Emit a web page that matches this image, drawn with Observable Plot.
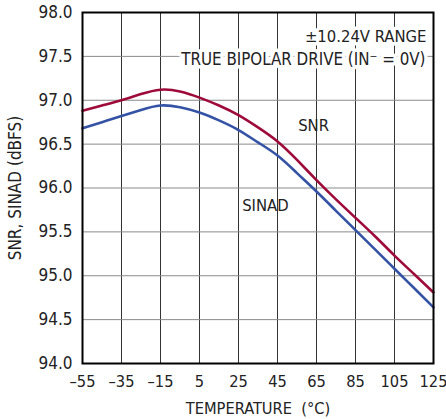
<!DOCTYPE html>
<html><head><meta charset="utf-8">
<script src="https://cdn.jsdelivr.net/npm/d3@7"></script>
<script src="https://cdn.jsdelivr.net/npm/@observablehq/plot@0.6"></script>
<style>body{margin:0;background:#fff}</style>
</head><body><div id="chart"></div>
<script>
const temps = [-55,-45,-35,-25,-15,-5,5,15,25,35,45,55,65,75,85,95,105,115,125];
const snr   = [96.88,96.94,97.00,97.07,97.12,97.10,97.03,96.94,96.83,96.69,96.53,96.32,96.09,95.87,95.66,95.45,95.23,95.02,94.81];
const sinad = [96.68,96.75,96.82,96.89,96.94,96.92,96.86,96.77,96.66,96.52,96.37,96.17,95.96,95.74,95.52,95.30,95.08,94.86,94.64];
const xTicks = [-55,-35,-15,5,25,45,65,85,105,125];
const yTicks = [94.0,94.5,95.0,95.5,96.0,96.5,97.0,97.5,98.0];
const seriesNames = ["SNR","SINAD"];
const seriesColors = ["#9e0b3a","#3553a5"];
const curveLabels = [{name:"SNR", t:63.5, v:96.71},{name:"SINAD", t:38.8, v:95.80}];
const notes = ["±10.24V RANGE","TRUE BIPOLAR DRIVE (IN\u207B = 0V)"];

const FONT = "'Liberation Sans Narrow','Arial Narrow','DejaVu Sans Condensed',sans-serif";
const data = temps.flatMap((t,i)=>[{t, v:snr[i], s:"SNR"},{t, v:sinad[i], s:"SINAD"}]);

const chart = Plot.plot({
  width:446, height:419,
  marginLeft:82, marginRight:13, marginTop:12, marginBottom:56,
  style:{fontFamily:FONT, fontSize:"17px", color:"#222", background:"#fff"},
  x:{domain:[-55,125]},
  y:{domain:[94,98]},
  color:{domain:seriesNames, range:seriesColors},
  marks:[
    Plot.gridX(xTicks,{stroke:"#333", strokeOpacity:1, strokeWidth:1}),
    Plot.gridY(yTicks,{stroke:"#8a8a8a", strokeOpacity:1, strokeWidth:1}),
    Plot.text([notes[0]],{frameAnchor:"top-right", dx:-7, dy:18, text:d=>d, fontSize:16.5, fill:"#222", stroke:"#fff", strokeWidth:7, textAnchor:"end"}),
    Plot.text([notes[1]],{frameAnchor:"top-right", dx:-8, dy:41, text:d=>d, fontSize:16.8, fill:"#222", stroke:"#fff", strokeWidth:7, textAnchor:"end"}),
    Plot.line(data,{x:"t", y:"v", stroke:"s", curve:"natural", strokeWidth:2.6}),
    Plot.text(curveLabels,{x:"t", y:"v", text:"name", fontSize:16.5, fill:"#222"}),
    Plot.frame({stroke:"#000", strokeWidth:2}),
    Plot.axisX(xTicks,{tickSize:0, tickPadding:12, fontSize:16.3, label:"TEMPERATURE  (°C)", labelAnchor:"center", labelArrow:"none", labelOffset:50, tickFormat:d=>d<0?"\u2013"+Math.abs(d):String(d)}),
    Plot.axisY(yTicks,{tickSize:0, tickPadding:10, fontSize:17, label:"SNR, SINAD (dBFS)", labelAnchor:"center", labelArrow:"none", labelOffset:74, tickFormat:d=>d.toFixed(1)})
  ]
});
document.getElementById("chart").appendChild(chart);
</script>
</body></html>
